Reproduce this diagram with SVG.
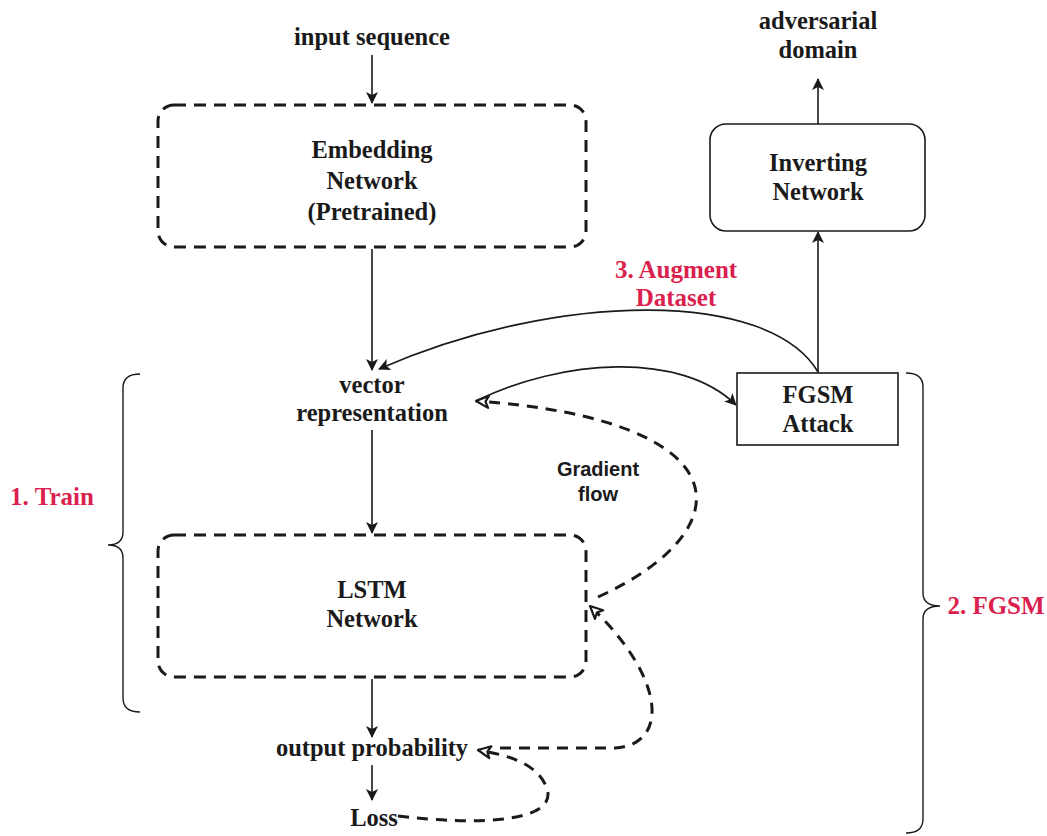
<svg xmlns="http://www.w3.org/2000/svg" width="1047" height="836" viewBox="0 0 1047 836">
  <style>
    .lbl { font-family: "Liberation Serif", "Times New Roman", serif; font-weight: bold; font-size: 24.5px; fill: #1a1a1a; text-anchor: middle; }
    .red { font-family: "Liberation Serif", "Times New Roman", serif; font-weight: bold; font-size: 25px; fill: #DB1F4E; text-anchor: middle; }
    .sans { font-family: "Liberation Sans", Arial, sans-serif; font-weight: bold; font-size: 20px; fill: #1a1a1a; text-anchor: middle; }
    .dashbox { fill: none; stroke: #1a1a1a; stroke-width: 3; stroke-dasharray: 12 8; }
    .solidbox { fill: #ffffff; stroke: #1a1a1a; stroke-width: 1.6; }
    .wire { fill: none; stroke: #1a1a1a; stroke-width: 1.6; }
    .grad { fill: none; stroke: #1a1a1a; stroke-width: 3; stroke-dasharray: 11 8; }
    .brace { fill: none; stroke: #1a1a1a; stroke-width: 1.4; }
  </style>
  <defs>
    <marker id="arrow" viewBox="0 0 12 12" refX="11" refY="6" markerWidth="12" markerHeight="12" markerUnits="userSpaceOnUse" orient="auto">
      <path d="M0,0 L12,6 L0,12 L3,6 Z" fill="#1a1a1a"/>
    </marker>
    <marker id="hollow" viewBox="0 0 16 16" refX="14" refY="8" markerWidth="16" markerHeight="16" markerUnits="userSpaceOnUse" orient="auto">
      <path d="M1.5,2 L14,8 L1.5,14 L4.5,8 Z" fill="#ffffff" stroke="#1a1a1a" stroke-width="2.2" stroke-linejoin="round"/>
    </marker>
  </defs>

  <rect width="1047" height="836" fill="#ffffff"/>

  <!-- connectors -->
  <g id="connectors">
    <line class="wire" x1="372" y1="55" x2="372" y2="103" marker-end="url(#arrow)"/>
    <line class="wire" x1="372" y1="249" x2="372" y2="370" marker-end="url(#arrow)"/>
    <line class="wire" x1="372" y1="430" x2="372" y2="533" marker-end="url(#arrow)"/>
    <line class="wire" x1="372" y1="679" x2="372" y2="737" marker-end="url(#arrow)"/>
    <line class="wire" x1="372" y1="765" x2="372" y2="800" marker-end="url(#arrow)"/>
    <line class="wire" x1="818" y1="373" x2="818" y2="232" marker-end="url(#arrow)"/>
    <line class="wire" x1="818" y1="124" x2="818" y2="79" marker-end="url(#arrow)"/>
    <!-- augment dataset: FGSM output back into the vector space -->
    <path class="wire" d="M818,372 C770,290 560,290 379,369" marker-end="url(#arrow)"/>
    <!-- vector representation into the attack -->
    <path class="wire" d="M478,400 C560,360 680,350 736,405" marker-end="url(#arrow)"/>
    <!-- gradient flow, backwards -->
    <path class="grad" d="M398,816 C480,826 562,822 546,786 C536,764 512,756 478,750" marker-end="url(#hollow)"/>
    <path class="grad" d="M500,748 L615,748 C668,745 668,680 590,606" marker-end="url(#hollow)"/>
    <path class="grad" d="M598,597 C745,530 745,420 476,401" marker-end="url(#hollow)"/>
  </g>

  <!-- nodes -->
  <g id="input">
    <text class="lbl" x="372" y="45">input sequence</text>
  </g>
  <g id="embedding">
    <rect class="dashbox" x="158" y="105" width="428" height="142" rx="16"/>
    <text class="lbl" x="372" y="158">Embedding</text>
    <text class="lbl" x="372" y="189">Network</text>
    <text class="lbl" x="372" y="220">(Pretrained)</text>
  </g>
  <g id="vector">
    <text class="lbl" x="372" y="393">vector</text>
    <text class="lbl" x="372" y="421">representation</text>
  </g>
  <g id="lstm">
    <rect class="dashbox" x="158" y="535" width="428" height="142" rx="16"/>
    <text class="lbl" x="372" y="598">LSTM</text>
    <text class="lbl" x="372" y="627">Network</text>
  </g>
  <g id="output">
    <text class="lbl" x="372" y="756">output probability</text>
  </g>
  <g id="loss">
    <text class="lbl" x="374" y="826">Loss</text>
  </g>
  <g id="fgsm">
    <rect class="solidbox" x="737" y="373" width="161" height="72"/>
    <text class="lbl" x="818" y="403">FGSM</text>
    <text class="lbl" x="818" y="432">Attack</text>
  </g>
  <g id="inverting">
    <rect class="solidbox" x="710" y="124" width="215" height="107" rx="16"/>
    <text class="lbl" x="818" y="171">Inverting</text>
    <text class="lbl" x="818" y="200">Network</text>
  </g>
  <g id="adversarial">
    <text class="lbl" x="818" y="29">adversarial</text>
    <text class="lbl" x="818" y="58">domain</text>
  </g>
  <g id="gradient-label">
    <text class="sans" x="598" y="476">Gradient</text>
    <text class="sans" x="598" y="501">flow</text>
  </g>

  <!-- phase braces -->
  <g id="phase-train">
    <path class="brace" d="M140,374 Q123,374 123,388 L123,532 Q123,545 108,545 Q123,545 123,558 L123,698 Q123,712 140,712"/>
    <text class="red" x="52" y="505">1. Train</text>
  </g>
  <g id="phase-fgsm">
    <path class="brace" d="M906,373 Q923,373 923,387 L923,593 Q923,606 940,606 Q923,606 923,619 L923,819 Q923,833 906,833"/>
    <text class="red" x="996" y="614">2. FGSM</text>
  </g>
  <g id="phase-augment">
    <text class="red" x="676" y="278">3. Augment</text>
    <text class="red" x="676" y="306">Dataset</text>
  </g>
</svg>
